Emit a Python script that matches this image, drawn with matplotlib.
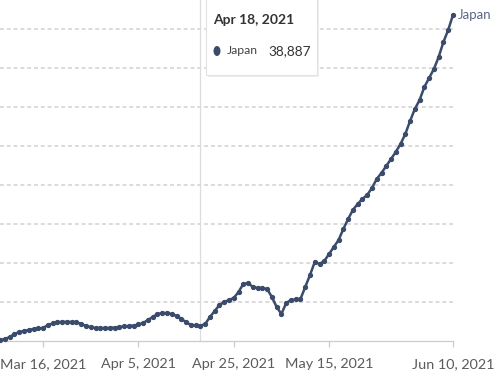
import numpy as np
import pandas as pd
import matplotlib
matplotlib.use("Agg")
import matplotlib.pyplot as plt
from matplotlib.patches import Rectangle, Ellipse

plt.rcParams['font.family'] = ['Lato', 'DejaVu Sans']

# daily values for Japan, Mar 7 .. Jun 10 2021
dates = pd.date_range("2021-03-07", "2021-06-10", freq="D")
japan = [
    2600, 5100, 10300, 17900, 23100, 25600, 28200, 30800, 32100, 33300,
    41000, 44900, 48700, 48900, 49200, 48800, 48500, 43600, 38500, 35900,
    33300, 33100, 33400, 33600, 34600, 35900, 37200, 38500, 39700, 42300,
    46200, 53800, 61500, 69200, 71800, 71600, 69200, 64100, 56400, 48700,
    41000, 40200, 38887, 43600, 61500, 76900, 92300, 100000, 105100, 110300,
    125600, 146100, 148700, 138500, 135900, 135600, 133300, 112800, 87200, 69200,
    97400, 105100, 106400, 107700, 138500, 169200, 202600, 197400, 205100, 223100,
    241000, 259000, 287200, 312800, 335900, 351300, 364100, 374400, 392300, 415400,
    430800, 448700, 466600, 484600, 505100, 530700, 564100, 594800, 617900, 651300,
    674300, 697400, 728200, 766600, 797400, 835900,
]
tick_dates = ["2021-03-16", "2021-04-05", "2021-04-25", "2021-05-15", "2021-06-10"]
tick_labels = ["Mar 16, 2021", "Apr 5, 2021", "Apr 25, 2021", "May 15, 2021", "Jun 10, 2021"]
grid_values = [100000, 200000, 300000, 400000, 500000, 600000, 700000, 800000]
hover_date = "2021-04-18"
hover_value = 38887

line_color = "#3b4b6b"
W, H = 496, 374

fig = plt.figure(figsize=(W / 100, H / 100), dpi=100)
ax = fig.add_axes([0, 33 / H, 453 / W, 341 / H])

for g in grid_values:
    ax.axhline(g, color="#dadada", lw=1.4, dashes=(2, 1.5), zorder=1)
ax.axvline(pd.Timestamp(hover_date), color="#dcdcdc", lw=0.9, zorder=1)

ax.plot(dates, japan, color=line_color, lw=1.8, marker="o", ms=2.8,
        zorder=3, clip_on=False)
ax.text(1.01, 835900, "Japan", transform=ax.get_yaxis_transform(),
        color="#5a6784", fontsize=9.5, va="center", ha="left")

ax.set_xlim(pd.Timestamp("2021-03-06 23:00"), pd.Timestamp("2021-06-10"))
ax.set_ylim(0, 874000)
ax.set_xticks([pd.Timestamp(d) for d in tick_dates])
ax.set_xticklabels(tick_labels)
ax.set_yticks([])
ax.tick_params(axis="x", length=4.5, width=0.9, color="#cccccc", pad=8,
               labelsize=10.4, labelcolor="#5b5b5b")
for s in ["top", "right", "left"]:
    ax.spines[s].set_visible(False)
ax.spines["bottom"].set_color("#cccccc")
ax.spines["bottom"].set_linewidth(0.9)

# tooltip
fig.patches.append(Rectangle((208 / W, (H - 77) / H), 111 / W, 85 / H,
                             transform=fig.transFigure, facecolor="#eeeeee",
                             edgecolor="none", zorder=5))
fig.patches.append(Rectangle((206 / W, (H - 75) / H), 111 / W, 85 / H,
                             transform=fig.transFigure, facecolor="white",
                             edgecolor="#e2e2e2", lw=0.8, zorder=5))
fig.text(213 / W, (H - 20) / H, "Apr 18, 2021", fontsize=10, fontweight="bold",
         color="#333333", va="center", ha="left", zorder=6)
fig.patches.append(Ellipse((217 / W, (H - 51) / H), 7 / W, 10 / H,
                           transform=fig.transFigure,
                           facecolor=line_color, zorder=6))
fig.text(227 / W, (H - 51) / H, "Japan", fontsize=8.8, color="#444444",
         va="center", ha="left", zorder=6)
fig.text(311 / W, (H - 51) / H, f"{hover_value:,}", fontsize=9.8, color="#333333",
         va="center", ha="right", zorder=6)

fig.savefig("out.png", dpi=100)
